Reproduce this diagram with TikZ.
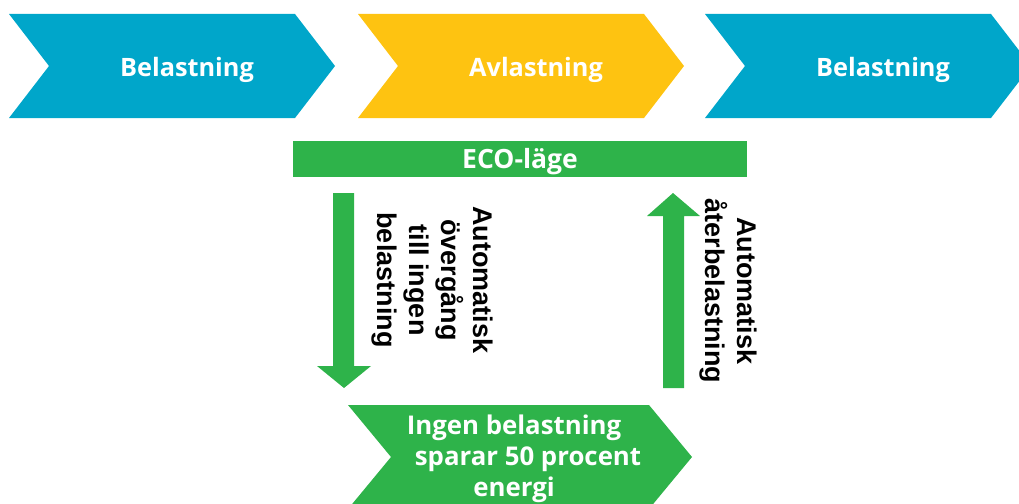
\documentclass[tikz,border=0pt]{standalone}
\usepackage{fontspec}
\setmainfont{Open Sans}
\newfontfamily\vertfont{Liberation Sans}
\definecolor{cblue}{RGB}{0,166,202}
\definecolor{cyellow}{RGB}{254,195,17}
\definecolor{cgreen}{RGB}{46,179,74}
\tikzset{
  lbl/.style={text=white, font=\fontsize{26.5}{31}\selectfont\bfseries, inner sep=0pt},
  chevlbl/.style={lbl, font=\fontsize{25.3}{31}\selectfont\bfseries},
  vlbl/.style={text=black, font=\vertfont\fontsize{27}{32}\selectfont\bfseries, inner sep=0pt, rotate=-90, align=center},
}
% \chevshape{x-left}{y-center}{top length}{tip depth}{colour}
\newcommand\chevshape[5]{%
  \fill[#5] (#1,#2-52) -- ++(#3,0) -- ++(#4,52) -- ++(-#4,52) -- (#1,#2+52) -- ++(#4,-52) -- cycle;}
\begin{document}
\begin{tikzpicture}[x=1pt,y=-1pt]
\useasboundingbox (0,0) rectangle (1019,503);
\begin{scope}
\clip (0,0) rectangle (1019,503);
% top chevrons
\chevshape{9}{66}{286}{40}{cblue}
\chevshape{358}{66}{286}{40}{cyellow}
\chevshape{705}{66}{286}{40}{cblue}
% bottom chevron
\chevshape{348}{457}{301}{43}{cgreen}
\end{scope}
\node[chevlbl, anchor=base] (b1) at (187,76) {Belastning};
\node[chevlbl, anchor=base] (av) at (536,76) {Avlastning};
\node[chevlbl, anchor=base] (b2) at (883,76) {Belastning};
% ECO bar
\fill[cgreen] (293,141) rectangle (747,177);
\node[lbl, anchor=base] (eco) at (520,168) {ECO-läge};
% down arrow
\fill[cgreen] (333,193) -- (354,193) -- (354,366) -- (371,366) -- (344,388) -- (317,366) -- (333,366) -- cycle;
% up arrow
\fill[cgreen] (673,193) -- (700,216) -- (684,216) -- (684,388) -- (663,388) -- (663,216) -- (647,216) -- cycle;
% vertical labels
\node[vlbl] (down) at (432,280) {Automatisk\\övergång\\till ingen\\belastning};
\node[vlbl] (up) at (728,291) {Automatisk\\återbelastning};
% bottom text
\node[chevlbl, font=\fontsize{25.8}{31}\selectfont\bfseries, align=center, anchor=north] (save) at (514,415) {Ingen belastning\\\hspace*{28pt}sparar 50 procent\\energi};
\end{tikzpicture}
\end{document}
